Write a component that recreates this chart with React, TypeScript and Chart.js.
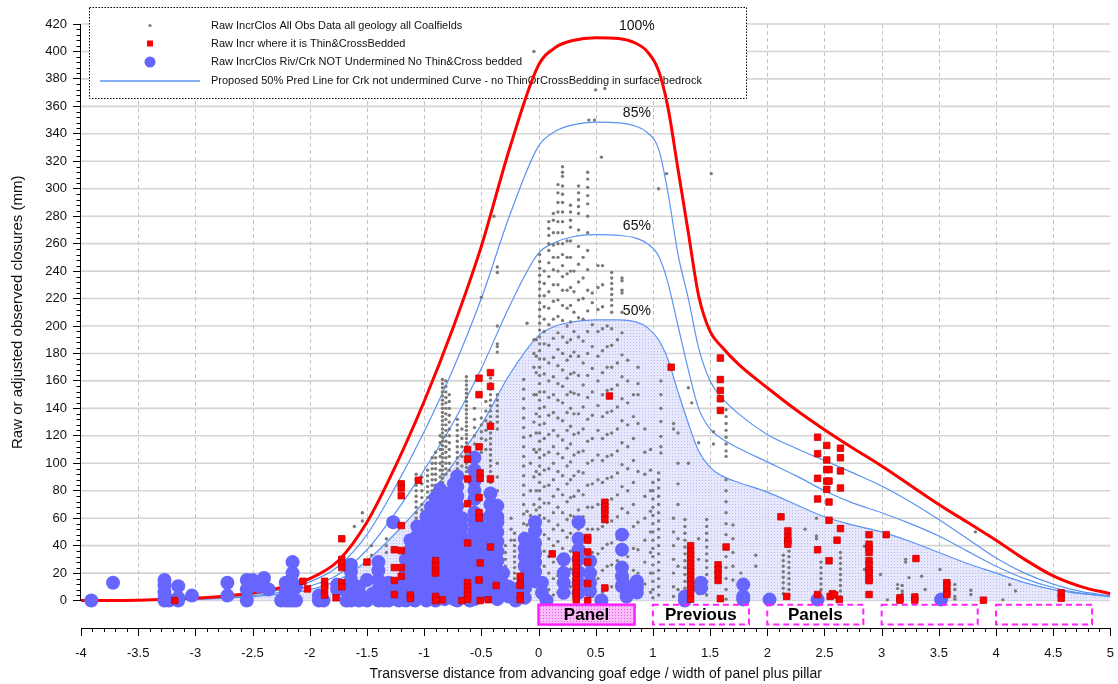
import React, { useEffect, useRef } from 'react';
import { Chart, registerables } from 'chart.js';

Chart.register(...registerables);

const FONT = "'Liberation Sans', Arial, Helvetica, sans-serif";

// Transverse positions (panel widths) at which the prediction curves are tabulated
const curveX = [-4, -3.5, -3, -2.75, -2.5, -2.25, -2, -1.75, -1.5, -1.25, -1, -0.75, -0.5, -0.25, 0, 0.15, 0.3, 0.5, 0.7, 0.85, 0.95, 1.05, 1.13, 1.22, 1.31, 1.4, 1.5, 1.6, 1.75, 2, 2.25, 2.5, 2.75, 3, 3.25, 3.5, 3.75, 4, 4.25, 4.5, 4.75, 5];
const curve100 = [0, 0.3, 1.8, 3.2, 5.5, 9.5, 16, 29, 57, 98, 145, 198, 258, 330, 390, 403, 408, 410, 409.5, 406, 400, 386, 360, 314, 268, 222, 196, 185, 172, 155, 139, 124.5, 111, 98, 84, 70, 57, 44, 30, 18, 10, 5];
const curve85 = [0, 0.25, 1.5, 2.7, 4.6, 8, 13.6, 25, 48, 83, 123, 168, 220, 281, 331, 342, 346.5, 348.5, 348, 345.5, 341, 329, 298, 252, 220, 184, 160, 148, 136, 121, 111, 102, 93, 83.5, 72, 59, 45, 31, 20, 12, 6.5, 3.5];
const curve65 = [0, 0.2, 1.2, 2.1, 3.6, 6.2, 10.5, 19, 37, 64, 95, 129, 169, 215, 253, 261, 265, 266.5, 266, 264, 260, 251, 232, 200, 168, 140, 125, 118, 111, 101, 91, 80, 71, 64, 56, 47, 36, 25, 16, 9.5, 5.2, 2.8];
const curve50 = [0, 0.15, 0.9, 1.6, 2.8, 4.8, 8, 15, 29, 49, 72, 99, 128, 165, 193, 200, 203, 204.5, 204.5, 203, 199, 190, 176, 152, 129, 109, 97, 91, 86, 79, 70, 61, 55, 50, 43, 35, 27, 20, 13, 8, 5, 3.3];
const curveLabels = ['100%', '85%', '65%', '50%'];

// All observations (grey), grouped as [x, closures at that x]
const grayLeft: [number, number[]][] = [
  [-2.12, [6, 2]], [-1.95, [3]], [-1.61, [54]], [-1.54, [64, 58]], [-1.46, [40, 33]], [-1.33, [45, 40, 35]],
  [-1.07, [92, 88, 84, 80, 76, 72, 68, 64, 60, 56, 52, 48]],
  [-1.02, [90, 85, 80, 75, 70, 66, 62]],
  [-0.97, [95, 91, 87, 83, 79, 75, 71, 67]],
  [-0.93, [104, 100, 96, 92, 88, 84, 80]],
  [-0.9, [108, 104, 100, 96, 92, 88, 84, 80, 76]],
  [-0.86, [120, 115, 110, 105, 100, 95, 90, 86]],
  [-0.84, [161, 158, 155, 152, 149, 146, 143, 140, 137, 134, 131, 128, 125, 122, 119, 116, 113, 110, 107, 104, 101, 98, 95, 92, 89, 86]],
  [-0.81, [160, 156, 152, 148, 144, 140, 136, 132, 128, 124, 120, 116, 112, 108, 104, 100, 96, 92]],
  [-0.78, [150, 145, 140, 135, 130, 125, 120, 115, 110, 105, 100, 95]],
  [-0.71, [132, 128, 124, 120, 116, 112, 108, 104, 100, 96]],
  [-0.67, [125, 118, 112, 105, 98]],
  [-0.63, [163, 160, 157, 154, 151, 148, 145, 142, 139, 136, 133, 130, 127, 124, 121, 118, 115, 112, 109, 106, 103, 100, 97, 94]],
  [-0.56, [140, 132, 126, 120, 114, 108]],
  [-0.5, [221, 133, 128, 123, 118, 113, 108]],
  [-0.46, [145, 138, 131, 124, 117, 110]],
  [-0.42, [166, 162, 158, 154, 150, 146, 142, 138, 134, 130, 126, 122, 118, 114, 110, 106, 102, 98, 94, 90, 86]],
  [-0.39, [280]],
  [-0.36, [243, 239, 200, 187, 185, 181, 150, 146, 142, 138, 134, 130, 125, 100, 90, 80]],
  [-0.29, [40, 35, 30, 25, 20, 15, 10, 5]],
  [-0.24, [60, 52, 44]],
  [-0.21, [49, 44, 40, 36, 32, 28, 24, 20, 16, 12, 8, 4, 1]],
  [-0.13, [161, 154, 147, 140, 133, 126, 119, 112, 105, 98, 91, 84, 77, 70, 63, 56, 49, 42, 35, 28, 21, 14, 7, 1]],
  [-0.1, [202, 65, 55, 45]],
  [-0.07, [120, 100, 80, 62, 40, 22, 8]],
  [-0.04, [400, 190, 180, 170, 150, 130, 110, 90, 70, 50, 30, 15]],
];

const grayCentre: [number, number[]][] = [
  [-0.02, [190, 178, 166, 150, 136, 122, 108, 94, 80, 66, 52, 38, 24, 10]],
  [0.01, [252, 247, 242, 237, 232, 227, 222, 217, 212, 207, 202, 197, 192, 187, 182, 176, 170, 164, 158, 152, 146, 140, 134, 128, 122, 116, 110, 104, 98, 92, 86, 80, 74, 68, 62, 56, 50, 44, 38, 32, 26, 20, 14, 8, 2]],
  [0.05, [240, 231, 222, 214, 205, 196, 187, 176, 165, 152, 141, 129, 118, 106, 95, 83, 71, 60, 48, 36, 25, 14, 5]],
  [0.09, [276, 271, 266, 260, 255, 246, 236, 225, 213, 201, 186, 173, 160, 148, 135, 121, 108, 96, 84, 71, 58, 45, 32, 20, 8]],
  [0.13, [282, 277, 268, 259, 250, 241, 230, 218, 205, 191, 177, 163, 150, 137, 124, 112, 100, 88, 76, 64, 52, 40, 28, 16, 4]],
  [0.17, [303, 297, 290, 283, 276, 268, 260, 250, 240, 230, 219, 207, 195, 183, 171, 158, 146, 133, 120, 107, 94, 81, 68, 55, 43, 30, 18, 6]],
  [0.21, [316, 312, 309, 302, 296, 290, 283, 276, 268, 260, 252, 244, 236, 226, 215, 204, 192, 180, 168, 156, 144, 131, 117, 104, 91, 77, 64, 51, 38, 25, 12, 2]],
  [0.25, [262, 250, 238, 226, 213, 200, 188, 175, 162, 150, 137, 124, 111, 98, 85, 72, 59, 46, 33, 20, 8]],
  [0.28, [288, 283, 277, 272, 262, 250, 240, 228, 215, 203, 190, 178, 165, 152, 140, 127, 114, 101, 88, 75, 62, 49, 36, 23, 10]],
  [0.31, [240, 225, 210, 196, 181, 166, 151, 136, 121, 106, 91, 76, 61, 46, 31, 16, 3]],
  [0.35, [302, 297, 292, 287, 282, 270, 258, 245, 232, 219, 206, 192, 178, 164, 150, 136, 122, 108, 94, 80, 66, 52, 38, 24, 10]],
  [0.39, [250, 235, 220, 205, 189, 173, 157, 141, 125, 109, 93, 77, 61, 45, 29, 13]],
  [0.43, [312, 307, 301, 295, 289, 280, 268, 255, 241, 226, 211, 196, 180, 164, 148, 132, 116, 100, 84, 68, 52, 36, 20, 5]],
  [0.44, [350]], [0.49, [350]], [0.5, [372]], [0.58, [373]], [0.55, [323]],
  [0.47, [224, 217, 201, 185, 169, 152, 135, 118, 102, 85, 68, 52, 35, 18, 3]],
  [0.52, [244, 228, 212, 196, 178, 160, 142, 124, 106, 88, 70, 52, 34, 16]],
  [0.56, [244, 230, 214, 198, 182, 166, 150, 134, 118, 102, 86, 70, 54, 38, 22, 6]],
  [0.6, [200, 185, 170, 153, 137, 121, 105, 89, 73, 57, 41, 25, 9]],
  [0.64, [239, 235, 231, 227, 223, 219, 215, 210, 198, 186, 170, 154, 138, 122, 106, 90, 74, 58, 42, 26, 10]],
  [0.69, [190, 173, 157, 141, 125, 109, 93, 77, 61, 45, 29, 13]],
  [0.73, [235, 233, 226, 224, 210, 195, 179, 163, 147, 131, 115, 99, 83, 67, 51, 35, 19, 4]],
  [0.78, [175, 160, 144, 128, 112, 96, 80, 64, 48, 32, 16, 2]],
  [0.83, [150, 134, 118, 102, 86, 70, 54, 38, 22, 8]],
  [0.87, [170, 158, 150, 129, 94, 57, 37, 20, 5]],
  [0.93, [125, 108, 92, 76, 60, 44, 28, 12]],
  [0.98, [110, 95, 80, 65, 50, 35, 20, 6]],
];

const grayRight: [number, number[]][] = [
  [1.0, [86, 80, 74, 68, 62, 56, 50, 44, 38, 32, 26, 20, 14, 8, 2]],
  [1.05, [300, 93, 88, 82, 76, 70, 64, 58, 52, 46, 40, 34, 28, 22, 16, 10, 4]],
  [1.07, [160, 150, 140, 130.5, 119.6, 112, 107.5]],
  [1.12, [311]],
  [1.18, [129, 125, 60, 50, 40, 30, 20, 10, 3]],
  [1.22, [122, 100, 85, 70, 45, 25, 8]],
  [1.28, [59, 54, 49, 44, 39, 34, 29, 24, 19, 14, 9, 4]],
  [1.31, [155, 100]], [1.34, [144]], [1.4, [115, 45, 30, 15, 5]],
  [1.47, [59, 54, 49, 44, 39, 34, 29, 24, 19, 14, 9, 4]],
  [1.51, [311]], [1.53, [114, 123]],
  [1.64, [139, 134, 129, 124, 119, 114, 109, 105, 88, 80, 72, 64, 56, 48, 40, 32, 24, 16, 8, 1]],
  [1.7, [55, 45, 35, 25, 15]], [1.77, [20, 13]], [1.9, [33, 25]],
  [2.14, [33, 29, 25, 21, 17, 13, 9, 5]],
  [2.19, [52, 48, 44, 40, 36, 32, 28, 24, 20, 16, 12, 8, 4]],
  [2.33, [52]], [2.43, [60, 47, 45]],
  [2.47, [28, 24, 20, 16, 12, 8, 4]],
  [2.64, [35, 31, 27, 23, 19, 15, 11, 7, 3]],
  [2.85, [39.5, 22.6]], [2.99, [19]], [3.05, [0.5]], [3.14, [11.6, 8.7]], [3.18, [11, 7, 5]],
  [3.21, [30, 28]], [3.24, [16.7]], [3.3, [4, 0.5]], [3.35, [17.7]], [3.38, [8]], [3.51, [22.6]],
  [3.64, [11.6, 8, 3, 1]], [3.78, [7.5, 4.4]], [3.82, [50]], [4.06, [0.5]], [4.12, [11.6]], [4.17, [7]],
];

// Creek / river sites not undermined (blue)
const creekSites: [number, number[]][] = [
  [-3.91, [0]], [-3.72, [13]], [-3.27, [15, 11, 6, 2, 0]], [-3.23, [0]], [-3.15, [10.5, 2, 0]], [-3.03, [3.6]],
  [-2.72, [13, 3.6]], [-2.55, [15, 8, 0]], [-2.5, [15]], [-2.45, [10.5]], [-2.4, [16.5, 10.5]], [-2.36, [8]],
  [-2.25, [0]], [-2.21, [13, 6, 0]], [-2.18, [2, 0]], [-2.15, [28, 20, 13, 6, 0]], [-2.12, [10, 0]],
  [-1.92, [3.6, 0]], [-1.88, [0]], [-1.76, [11.6, 8]], [-1.68, [8, 0]], [-1.64, [26, 21, 15, 6, 0]],
  [-1.57, [10, 0]], [-1.54, [3]], [-1.5, [15, 0]], [-1.45, [5]], [-1.4, [28, 22, 15, 8, 3, 0]],
  [-1.35, [10, 0]], [-1.31, [13, 9, 0]], [-1.27, [57, 4]], [-1.22, [10, 0]], [-1.16, [30, 22, 14, 6, 0]],
  [-1.12, [44, 37, 30, 23, 16, 9, 2]], [-1.08, [40, 33, 26, 19, 12, 5, 0]], [-1.06, [54, 47]],
  [-1.03, [52, 45, 38, 31, 24, 17, 10, 3]], [-0.98, [61, 54, 47, 40, 33, 26, 19, 12, 5, 0]],
  [-0.94, [68, 61, 54, 47, 40, 33, 26, 19, 12, 5]], [-0.9, [75, 68, 61, 54, 47, 40, 33, 26, 19, 12, 5, 0]],
  [-0.86, [81, 74, 67, 60, 53, 46, 39, 32, 25, 18, 11, 4]], [-0.82, [78, 71, 64, 57, 50, 43, 36, 29, 22, 15, 8, 1]],
  [-0.78, [73.5, 66, 59, 52, 45, 38, 31, 24, 17, 10, 3]], [-0.74, [85, 78, 71, 64, 57, 50, 43, 36, 29, 22, 15, 8, 1]],
  [-0.71, [90.5, 83, 76, 69, 62, 55, 48, 41, 34, 27, 20, 13, 6, 0]], [-0.67, [60, 53, 46, 39, 32, 25, 18, 11, 4]],
  [-0.63, [44, 37, 30, 23, 16, 9, 2]], [-0.6, [30, 20, 10, 0]],
  [-0.56, [104, 95, 87, 80, 74, 64, 57, 50, 43, 36, 29, 22, 15, 8, 1]], [-0.52, [60, 53, 46, 39, 32, 25, 18, 11, 4]],
  [-0.49, [53, 46, 39, 32, 25, 18, 11, 4]], [-0.45, [40, 33, 26, 19, 12, 5]],
  [-0.42, [78, 70, 62, 54, 47, 40, 33, 26, 19, 12, 5]], [-0.36, [69, 61, 57, 50, 43, 36, 29, 22, 15, 8, 1]],
  [-0.31, [20, 12, 4]], [-0.26, [10, 3]], [-0.2, [8, 0]], [-0.17, [5]],
  [-0.12, [45, 38, 32, 25, 16.5, 9, 2]], [-0.03, [57, 50.5, 42, 34.7, 28, 21, 14]], [0.03, [13, 5.6]], [0.07, [0]],
  [0.22, [30, 20, 13, 5.6]], [0.35, [57, 45, 37, 30, 20.6, 13, 5.6]], [0.45, [28.6, 20, 13, 7]], [0.55, [0]],
  [0.73, [48, 37, 24, 17.7, 10.4]], [0.77, [10, 3]], [0.86, [14, 9.5, 5.8]],
  [1.28, [3, 0]], [1.42, [13, 9]], [1.79, [11.6, 3, 0.7]], [2.02, [0.7]], [2.44, [0.7]], [3.52, [0.7]],
];

// Thin & cross-bedded sites (red), [x, closure]
const thinCrossBedded: [number, number][] = [
  [-3.18, 0], [-2.06, 14], [-2.02, 8.5], [-1.87, 14], [-1.87, 11], [-1.87, 8.7], [-1.87, 4], [-1.77, 2],
  [-1.72, 45], [-1.72, 30], [-1.72, 27.4], [-1.72, 24], [-1.72, 13], [-1.72, 10], [-1.5, 28],
  [-1.26, 37], [-1.2, 36.4], [-1.26, 24], [-1.2, 24], [-1.26, 14.6], [-1.2, 17.7], [-1.26, 4.4],
  [-1.2, 85], [-1.2, 82], [-1.2, 76.4], [-1.2, 54.6], [-1.12, 4], [-1.12, 1.5], [-1.05, 87.6],
  [-0.9, 29], [-0.9, 25.5], [-0.9, 22], [-0.9, 20], [-0.9, 3], [-0.9, 0], [-0.84, 0.5], [-0.67, 0],
  [-0.62, 110], [-0.62, 103], [-0.62, 88.6], [-0.62, 70.6], [-0.62, 42], [-0.62, 13], [-0.62, 10],
  [-0.62, 6.6], [-0.62, 3.8], [-0.62, 1], [-0.52, 162], [-0.52, 150], [-0.52, 112], [-0.51, 93],
  [-0.51, 89], [-0.52, 75], [-0.52, 64], [-0.52, 60], [-0.52, 15], [-0.51, 27.4], [-0.51, 0],
  [-0.44, 0.6], [-0.42, 166], [-0.42, 156], [-0.42, 127], [-0.42, 88.6], [-0.42, 39], [-0.37, 11],
  [-0.16, 17.7], [-0.16, 12.4], [-0.16, 11], [-0.16, 3.6], [-0.16, 0.7], [0.12, 34],
  [0.33, 33], [0.33, 30], [0.33, 27], [0.33, 24], [0.33, 21], [0.33, 18], [0.33, 15], [0.33, 12],
  [0.33, 9], [0.33, 6], [0.33, 3], [0.33, 0.5], [0.43, 46], [0.43, 44], [0.43, 35.4], [0.43, 28],
  [0.43, 12.4], [0.43, 0], [0.58, 71.6], [0.58, 68.7], [0.58, 65.8], [0.58, 63], [0.58, 59], [0.58, 9.2],
  [0.62, 149], [1.16, 170], [1.59, 176.6], [1.59, 161], [1.59, 153], [1.59, 147], [1.59, 138.5],
  [1.33, 40], [1.33, 36], [1.33, 33], [1.33, 30], [1.33, 27], [1.33, 24], [1.33, 21], [1.33, 18],
  [1.33, 15], [1.33, 12], [1.33, 8.5], [1.33, 5.6], [1.33, 1], [1.57, 26], [1.57, 22.6], [1.57, 19],
  [1.57, 14.6], [1.64, 39], [1.59, 1.4], [2.12, 61], [2.18, 50.7], [2.18, 46], [2.18, 43.5], [2.18, 41],
  [2.17, 3], [2.44, 119], [2.44, 107], [2.44, 89], [2.44, 74], [2.44, 37], [2.44, 4.4],
  [2.52, 113], [2.52, 102.4], [2.52, 95.4], [2.54, 95.4], [2.52, 87], [2.54, 87], [2.52, 81],
  [2.54, 71.8], [2.54, 58.5], [2.54, 29], [2.64, 111], [2.64, 104], [2.64, 94.4], [2.64, 82],
  [2.64, 52.4], [2.61, 44], [2.55, 3], [2.57, 5], [2.59, 4], [2.63, 0.7],
  [2.89, 48], [2.89, 41], [2.89, 38], [2.89, 35], [2.89, 29], [2.89, 26], [2.89, 22], [2.89, 20],
  [2.89, 16], [2.89, 14.5], [2.89, 4.4], [3.04, 48], [3.3, 30.6], [3.16, 2], [3.16, 0.3], [3.29, 2.6],
  [3.29, 0.3], [3.57, 13], [3.57, 10.7], [3.57, 6.6], [3.57, 4.4], [3.89, 0.3], [4.57, 5.6], [4.57, 1.7],
];

// Panel layout strip beneath the axis
const panelStart = [0, 1, 2, 3, 4];
const panelText = ['Panel', 'Previous', 'Panels', '', ''];
const panelWidth = 0.84;

const legendTexts = [
  'Raw IncrClos All Obs Data all geology all Coalfields',
  'Raw Incr where it is Thin&CrossBedded',
  'Raw IncrClos Riv/Crk NOT Undermined No Thin&Cross bedded',
  'Proposed 50% Pred Line for Crk not undermined Curve - no ThinOrCrossBedding in surface bedrock',
];

const RED = '#ff0000';
const CURVE_BLUE = '#5a93f2';
const DOT_BLUE = '#6666ff';
const GREY = '#7a7a7a';
const MAGENTA = '#ff22ff';

const expand = (cols: [number, number[]][]) => cols.flatMap(([x, ys]) => ys.map((y) => ({ x, y })));
const curvePoints = (ys: number[]) => curveX.map((x, i) => ({ x, y: ys[i] }));

function makePattern(base: string, dot: string, size: number) {
  const c = document.createElement('canvas');
  c.width = size;
  c.height = size;
  const g = c.getContext('2d')!;
  g.fillStyle = base;
  g.fillRect(0, 0, size, size);
  g.fillStyle = dot;
  g.fillRect(0, 0, 1, 1);
  return g.createPattern(c, 'repeat')!;
}

export default function App() {
  const ref = useRef<HTMLCanvasElement>(null);

  useEffect(() => {
    const canvas = ref.current!;
    Chart.defaults.font.family = FONT;
    const areaFill = makePattern('rgba(228,228,252,0.85)', 'rgba(185,185,245,0.9)', 3);
    const panelFill = makePattern('rgb(248,188,248)', 'rgb(230,90,230)', 3);

    const decor = {
      id: 'decor',
      beforeDatasetsDraw(chart: any) {
        const { ctx, chartArea: a, scales } = chart;
        const xs = scales.x;
        const ys = scales.y;
        const y0 = ys.getPixelForValue(0);
        ctx.save();
        // horizontal grid
        ctx.strokeStyle = '#d4d4d4';
        ctx.lineWidth = 1.6;
        ys.ticks.forEach((t: any) => {
          if (t.value < 0) return;
          const py = ys.getPixelForValue(t.value);
          ctx.beginPath();
          ctx.moveTo(a.left, py);
          ctx.lineTo(a.right, py);
          ctx.stroke();
        });
        // vertical dashed grid
        ctx.strokeStyle = '#c4c4c4';
        ctx.lineWidth = 1;
        ctx.setLineDash([4, 3]);
        xs.ticks.forEach((t: any) => {
          const px = Math.round(xs.getPixelForValue(t.value)) + 0.5;
          if (px <= a.left + 1 || px >= a.right - 1) return;
          ctx.beginPath();
          ctx.moveTo(px, a.top);
          ctx.lineTo(px, y0);
          ctx.stroke();
        });
        ctx.setLineDash([]);
        // y axis line (0..top)
        ctx.strokeStyle = '#000';
        ctx.lineWidth = 1;
        const ax = Math.round(a.left) - 0.5;
        ctx.beginPath();
        ctx.moveTo(ax, a.top);
        ctx.lineTo(ax, y0);
        ctx.stroke();
        // minor ticks on y (every 4)
        for (let i = 0; i <= 105; i++) {
          if (i % 5 === 0) continue;
          const py = Math.round(ys.getPixelForValue(i * 4)) + 0.5;
          ctx.beginPath();
          ctx.moveTo(ax - 4, py);
          ctx.lineTo(ax, py);
          ctx.stroke();
        }
        // x ticks: major every 0.5, minor every 0.1
        for (let i = 0; i <= 90; i++) {
          const len = i % 5 === 0 ? 8 : 4;
          const px = Math.round(xs.getPixelForValue(-4 + i * 0.1)) + 0.5;
          ctx.beginPath();
          ctx.moveTo(px, a.bottom);
          ctx.lineTo(px, a.bottom + len);
          ctx.stroke();
        }

        // legend box
        const L = 89, T = 7, R = 746, B = 98;
        ctx.fillStyle = '#fff';
        ctx.fillRect(L, T, R - L, B - T);
        ctx.setLineDash([1.5, 1.5]);
        ctx.strokeStyle = '#000';
        ctx.strokeRect(L + 0.5, T + 0.5, R - L, B - T);
        ctx.setLineDash([]);
        const rows = [25.5, 43.5, 62, 81];
        const mx = 150;
        ctx.fillStyle = GREY;
        ctx.beginPath();
        ctx.arc(mx, rows[0], 1.6, 0, Math.PI * 2);
        ctx.fill();
        ctx.fillStyle = RED;
        ctx.fillRect(mx - 3, rows[1] - 3, 6, 6);
        ctx.fillStyle = DOT_BLUE;
        ctx.beginPath();
        ctx.arc(mx, rows[2], 5.5, 0, Math.PI * 2);
        ctx.fill();
        ctx.strokeStyle = CURVE_BLUE;
        ctx.lineWidth = 1.3;
        ctx.beginPath();
        ctx.moveTo(100, rows[3]);
        ctx.lineTo(200, rows[3]);
        ctx.stroke();
        ctx.fillStyle = '#111';
        ctx.font = `11px ${FONT}`;
        ctx.textAlign = 'left';
        ctx.textBaseline = 'middle';
        legendTexts.forEach((s, i) => ctx.fillText(s, 211, rows[i]));
        ctx.restore();
      },
      afterDatasetsDraw(chart: any) {
        const { ctx, scales } = chart;
        const xs = scales.x;
        const ys = scales.y;
        ctx.save();
        // curve percentage labels
        ctx.fillStyle = '#111';
        ctx.font = `14px ${FONT}`;
        ctx.textAlign = 'center';
        ctx.textBaseline = 'middle';
        [curve100, curve85, curve65, curve50].forEach((c, i) => {
          const peak = Math.max(...c);
          ctx.fillText(curveLabels[i], xs.getPixelForValue(0.86), ys.getPixelForValue(peak) - (i === 0 ? 12 : 9));
        });
        // panel strip
        const top = ys.getPixelForValue(-3);
        const bot = ys.getPixelForValue(-17.5);
        panelStart.forEach((s, i) => {
          const l = xs.getPixelForValue(s);
          const r = xs.getPixelForValue(s + panelWidth);
          ctx.lineWidth = 2;
          ctx.strokeStyle = MAGENTA;
          if (i === 0) {
            ctx.fillStyle = panelFill;
            ctx.fillRect(l, top, r - l, bot - top);
            ctx.setLineDash([]);
            ctx.lineWidth = 2.5;
          } else {
            ctx.setLineDash([6, 4]);
          }
          ctx.strokeRect(l, top, r - l, bot - top);
          ctx.setLineDash([]);
          if (panelText[i]) {
            ctx.fillStyle = '#000';
            ctx.font = `bold 17px ${FONT}`;
            ctx.textAlign = 'center';
            ctx.textBaseline = 'middle';
            ctx.fillText(panelText[i], (l + r) / 2, (top + bot) / 2 + 0.5);
          }
        });
        ctx.restore();
      },
      afterDraw(chart: any) {
        const { ctx, chartArea: a, scales } = chart;
        const ys = scales.y;
        ctx.save();
        ctx.fillStyle = '#111';
        ctx.textAlign = 'center';
        ctx.textBaseline = 'middle';
        ctx.font = `15px ${FONT}`;
        ctx.translate(18, (a.top + ys.getPixelForValue(0)) / 2);
        ctx.rotate(-Math.PI / 2);
        ctx.fillText('Raw or adjusted observed closures (mm)', 0, 0);
        ctx.restore();
        ctx.save();
        ctx.fillStyle = '#111';
        ctx.textAlign = 'center';
        ctx.textBaseline = 'middle';
        ctx.font = `14px ${FONT}`;
        ctx.fillText(
          'Transverse distance from advancing goaf edge / width of panel plus pillar',
          (a.left + a.right) / 2,
          674,
        );
        ctx.restore();
      },
    };

    const lineStyle = {
      type: 'line' as const,
      pointRadius: 0,
      cubicInterpolationMode: 'monotone' as const,
      fill: false,
    };

    const chart = new Chart(canvas, {
      type: 'scatter',
      data: {
        datasets: [
          {
            label: 'thin',
            data: thinCrossBedded.map(([x, y]) => ({ x, y })),
            pointStyle: 'rect',
            pointRadius: 4.6,
            backgroundColor: RED,
            borderColor: '#c80000',
            borderWidth: 0.8,
            order: 0,
          },
          {
            label: 'creek',
            data: expand(creekSites),
            pointRadius: 7,
            backgroundColor: DOT_BLUE,
            borderWidth: 0,
            order: 1,
          },
          {
            label: 'all',
            data: expand([...grayLeft, ...grayCentre, ...grayRight]),
            pointRadius: 1.7,
            backgroundColor: GREY,
            borderWidth: 0,
            order: 2,
          },
          { ...lineStyle, label: '100%', data: curvePoints(curve100), borderColor: RED, borderWidth: 3, order: 3 },
          { ...lineStyle, label: '85%', data: curvePoints(curve85), borderColor: CURVE_BLUE, borderWidth: 1.2, order: 4 },
          { ...lineStyle, label: '65%', data: curvePoints(curve65), borderColor: CURVE_BLUE, borderWidth: 1.2, order: 5 },
          {
            ...lineStyle,
            label: '50%',
            data: curvePoints(curve50),
            borderColor: CURVE_BLUE,
            borderWidth: 1.2,
            fill: 'origin',
            backgroundColor: areaFill,
            order: 6,
          },
        ] as any,
      },
      options: {
        responsive: false,
        animation: false,
        events: [],
        layout: { padding: { left: 0, right: 4.5, top: 24, bottom: 0 } },
        plugins: { legend: { display: false }, tooltip: { enabled: false } },
        scales: {
          x: {
            type: 'linear',
            min: -4,
            max: 5,
            afterFit: (s: any) => {
              s.height = 56;
            },
            ticks: {
              stepSize: 0.5,
              autoSkip: false,
              maxRotation: 0,
              padding: 4,
              color: '#111',
              font: { size: 13, family: FONT },
              callback: (v: any) => String(v),
            },
            grid: {
              drawOnChartArea: false,
              drawTicks: true,
              tickLength: 14,
              tickColor: 'rgba(0,0,0,0)',
              color: 'rgba(0,0,0,0)',
            },
            border: { display: true, color: '#000', width: 1 },
          },
          y: {
            type: 'linear',
            min: -20,
            max: 420,
            afterFit: (s: any) => {
              s.width = 81;
            },
            ticks: {
              stepSize: 20,
              padding: 6,
              color: '#111',
              font: { size: 13, family: FONT },
              callback: (v: any) => (v < 0 ? '' : String(v)),
            },
            grid: {
              drawOnChartArea: false,
              drawTicks: true,
              tickLength: 8,
              color: 'rgba(0,0,0,0)',
              tickColor: (c: any) => (c.tick && c.tick.value < 0 ? 'rgba(0,0,0,0)' : '#000'),
            },
            border: { display: false },
          },
        },
      } as any,
      plugins: [decor],
    });

    return () => chart.destroy();
  }, []);

  return (
    <div style={{ position: 'fixed', left: 0, top: 0, width: 1118, height: 684, background: '#fff' }}>
      <canvas ref={ref} width={1118} height={684} style={{ display: 'block' }} />
    </div>
  );
}
